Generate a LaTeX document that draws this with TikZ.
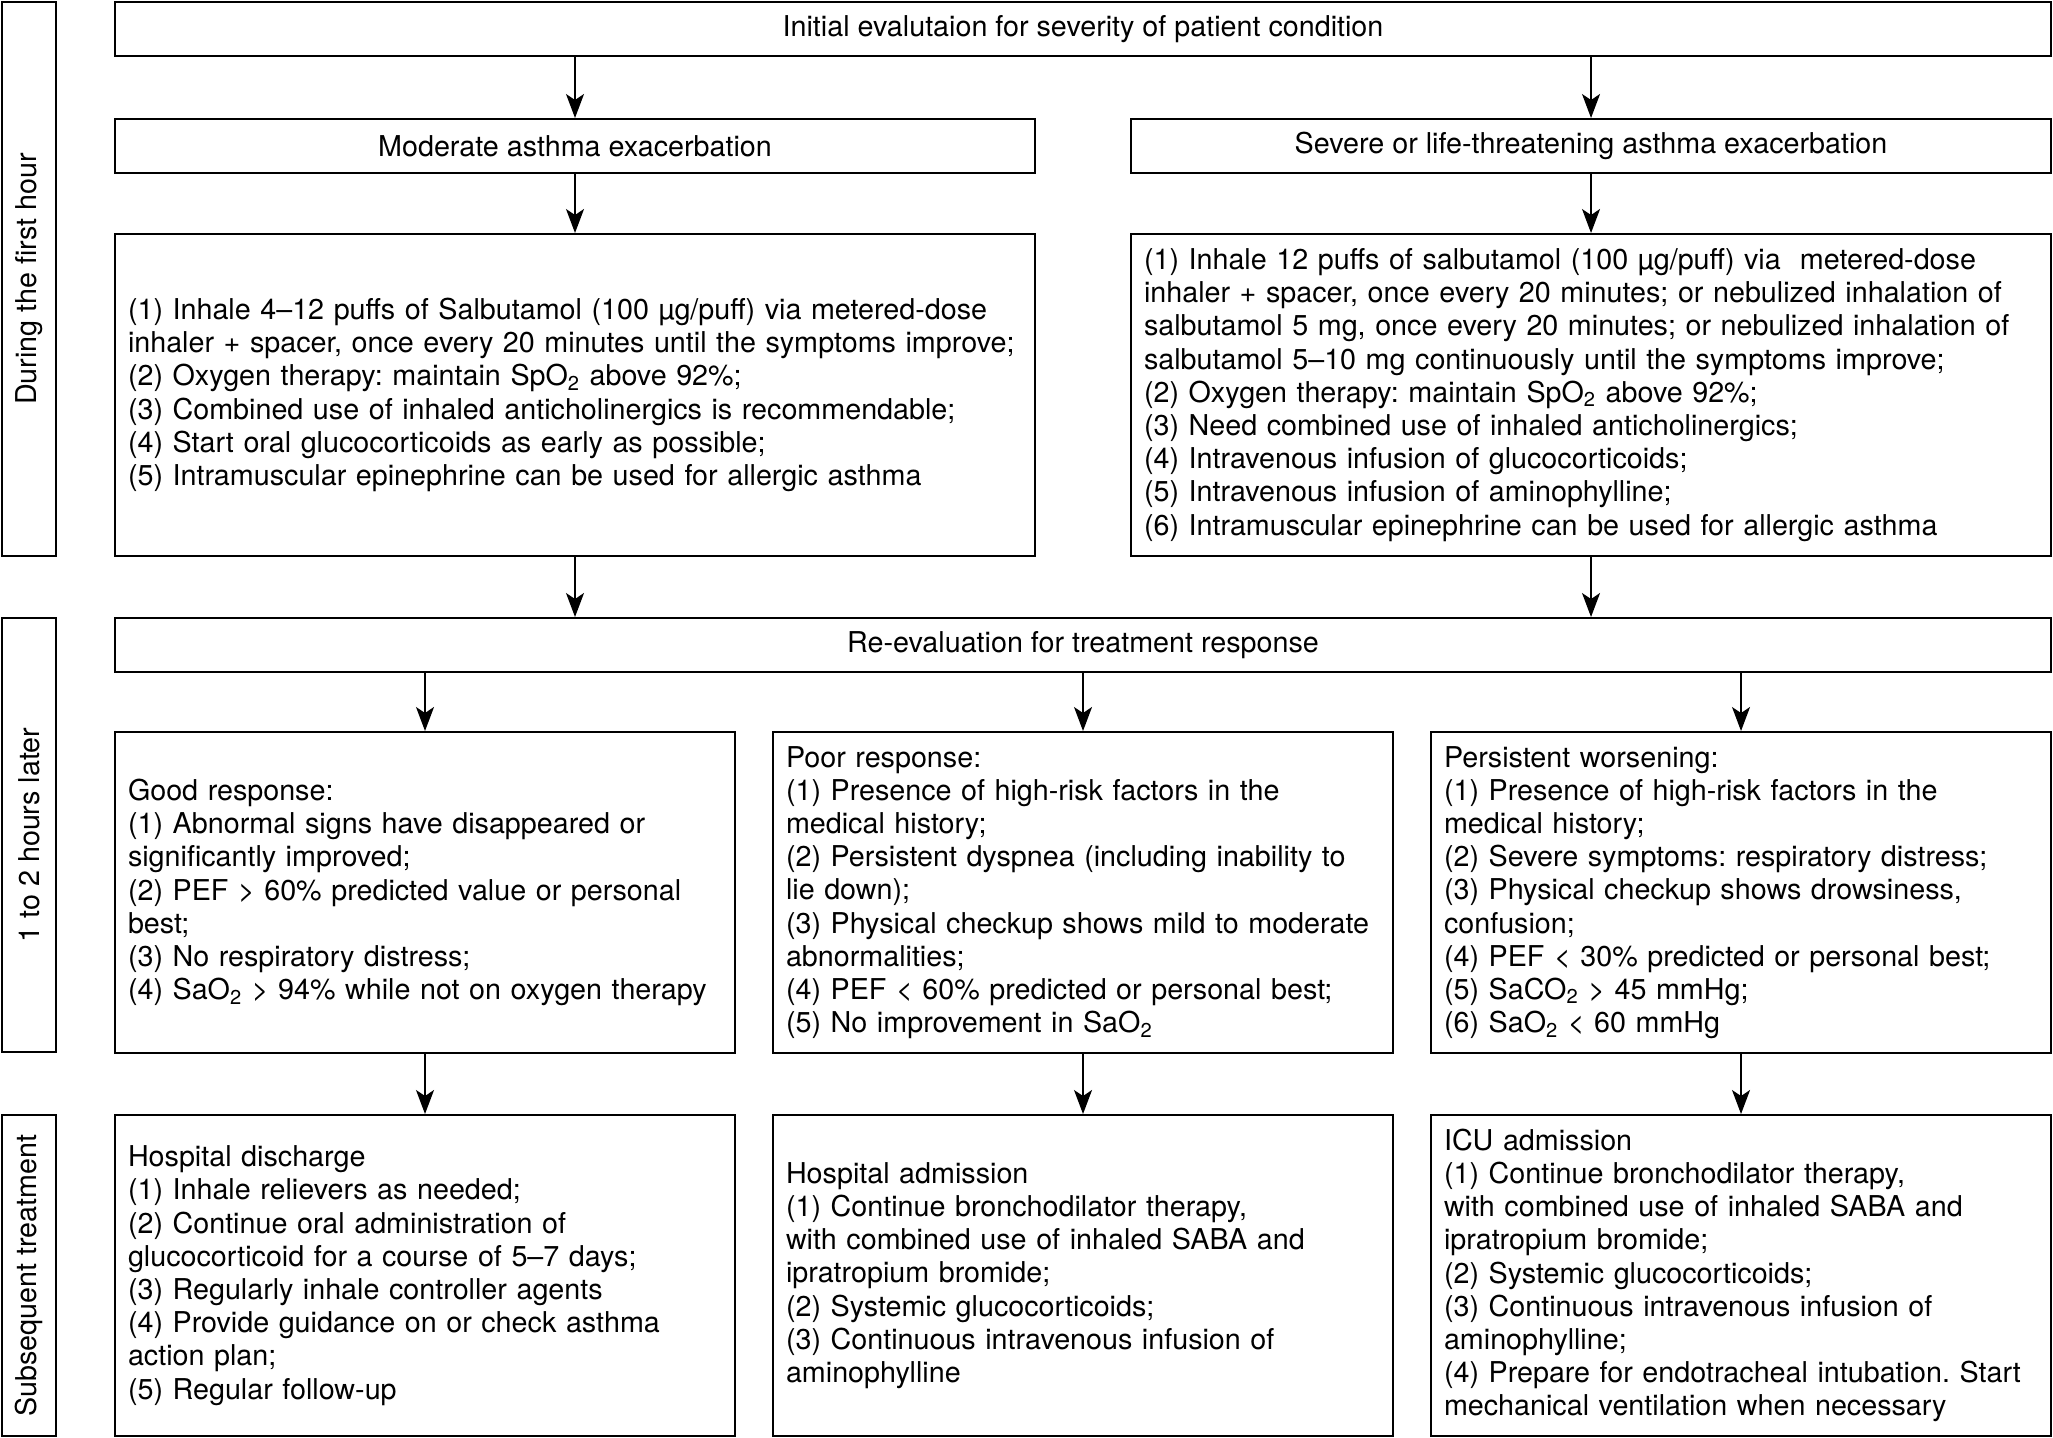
\documentclass[tikz,border=0pt]{standalone}
\usepackage{fontspec}
\setmainfont{TeX Gyre Heros}
\usetikzlibrary{arrows.meta}
\newcommand{\figfont}{\fontsize{14.35bp}{16.6bp}\selectfont\frenchspacing\hyphenpenalty=10000\exhyphenpenalty=10000}
\begin{document}
\begin{tikzpicture}[x=0.5bp,y=-0.5bp,
  box/.style={draw, line width=1bp, anchor=north west, inner sep=0pt, font=\figfont},
  hdr/.style={box, minimum width=#1, minimum height=27bp, align=center},
  lab/.style={box, minimum width=27bp, minimum height=#1},
  tbox/.style 2 args={box, align=left, inner xsep=6.5bp, inner ysep=3bp, text width=#1-13bp, minimum height=#2},
  arr/.style={line width=0.7bp, -{Stealth[length=12bp, width=9bp, inset=3bp]}}
]
\useasboundingbox (0,0) rectangle (2053,1437);

% phase labels
\node[lab=277bp] (lab1) at (1,1) {\rotatebox{90}{During the first hour}};
\node[lab=217bp] (lab2) at (1,617) {\rotatebox{90}{1 to 2 hours later}};
\node[lab=160.5bp] (lab3) at (1,1114) {\rotatebox{90}{Subsequent treatment}};

% first hour
\node[hdr=968bp] (top) at (114,1) {Initial evalutaion for severity of patient condition};
\node[hdr=460bp] (mod) at (114,118) {Moderate asthma exacerbation};
\node[hdr=460bp] (sev) at (1130,118) {Severe or life-threatening asthma exacerbation};

\node[tbox={460bp}{161bp}] (modd) at (114,233) {(1) Inhale 4–12 puffs of Salbutamol (100 µg/puff) via metered-dose\\
inhaler + spacer, once every 20 minutes until the symptoms improve;\\
(2) Oxygen therapy: maintain SpO\textsubscript{2} above 92\%;\\
(3) Combined use of inhaled anticholinergics is recommendable;\\
(4) Start oral glucocorticoids as early as possible;\\
(5) Intramuscular epinephrine can be used for allergic asthma};

\node[tbox={460bp}{161bp}] (sevd) at (1130,233) {(1) Inhale 12 puffs of salbutamol (100 µg/puff) via\ \ metered-dose\\
inhaler + spacer, once every 20 minutes; or nebulized inhalation of\\
salbutamol 5 mg, once every 20 minutes; or nebulized inhalation of\\
salbutamol 5–10 mg continuously until the symptoms improve;\\
(2) Oxygen therapy: maintain SpO\textsubscript{2} above 92\%;\\
(3) Need combined use of inhaled anticholinergics;\\
(4) Intravenous infusion of glucocorticoids;\\
(5) Intravenous infusion of aminophylline;\\
(6) Intramuscular epinephrine can be used for allergic asthma};

% re-evaluation
\node[hdr=968bp] (reeval) at (114,617) {Re-evaluation for treatment response};

\node[tbox={310bp}{160.5bp}] (good) at (114,731) {Good response:\\
(1) Abnormal signs have disappeared or\\
significantly improved;\\
(2) PEF > 60\% predicted value or personal\\
best;\\
(3) No respiratory distress;\\
(4) SaO\textsubscript{2} > 94\% while not on oxygen therapy};

\node[tbox={310bp}{160.5bp}] (poor) at (772,731) {Poor response:\\
(1) Presence of high-risk factors in the\\
medical history;\\
(2) Persistent dyspnea (including inability to\\
lie down);\\
(3) Physical checkup shows mild to moderate\\
abnormalities;\\
(4) PEF < 60\% predicted or personal best;\\
(5) No improvement in SaO\textsubscript{2}};

\node[tbox={310bp}{160.5bp}] (worse) at (1430,731) {Persistent worsening:\\
(1) Presence of high-risk factors in the\\
medical history;\\
(2) Severe symptoms: respiratory distress;\\
(3) Physical checkup shows drowsiness,\\
confusion;\\
(4) PEF < 30\% predicted or personal best;\\
(5) SaCO\textsubscript{2} > 45 mmHg;\\
(6) SaO\textsubscript{2} < 60 mmHg};

% subsequent treatment
\node[tbox={310bp}{160.5bp}] (disc) at (114,1114) {Hospital discharge\\
(1) Inhale relievers as needed;\\
(2) Continue oral administration of\\
glucocorticoid for a course of 5–7 days;\\
(3) Regularly inhale controller agents\\
(4) Provide guidance on or check asthma\\
action plan;\\
(5) Regular follow-up};

\node[tbox={310bp}{160.5bp}] (adm) at (772,1114) {Hospital admission\\
(1) Continue bronchodilator therapy,\\
with combined use of inhaled SABA and\\
ipratropium bromide;\\
(2) Systemic glucocorticoids;\\
(3) Continuous intravenous infusion of\\
aminophylline};

\node[tbox={310bp}{160.5bp}] (icu) at (1430,1114) {ICU admission\\
(1) Continue bronchodilator therapy,\\
with combined use of inhaled SABA and\\
ipratropium bromide;\\
(2) Systemic glucocorticoids;\\
(3) Continuous intravenous infusion of\\
aminophylline;\\
(4) Prepare for endotracheal intubation. Start\\
mechanical ventilation when necessary};

% connectors
\draw[arr] (top.south -| mod.north) -- (mod.north);
\draw[arr] (top.south -| sev.north) -- (sev.north);
\draw[arr] (mod.south) -- (modd.north);
\draw[arr] (sev.south) -- (sevd.north);
\draw[arr] (modd.south) -- (reeval.north -| modd.south);
\draw[arr] (sevd.south) -- (reeval.north -| sevd.south);
\draw[arr] (reeval.south -| good.north) -- (good.north);
\draw[arr] (reeval.south -| poor.north) -- (poor.north);
\draw[arr] (reeval.south -| worse.north) -- (worse.north);
\draw[arr] (good.south) -- (disc.north);
\draw[arr] (poor.south) -- (adm.north);
\draw[arr] (worse.south) -- (icu.north);
\end{tikzpicture}
\end{document}
